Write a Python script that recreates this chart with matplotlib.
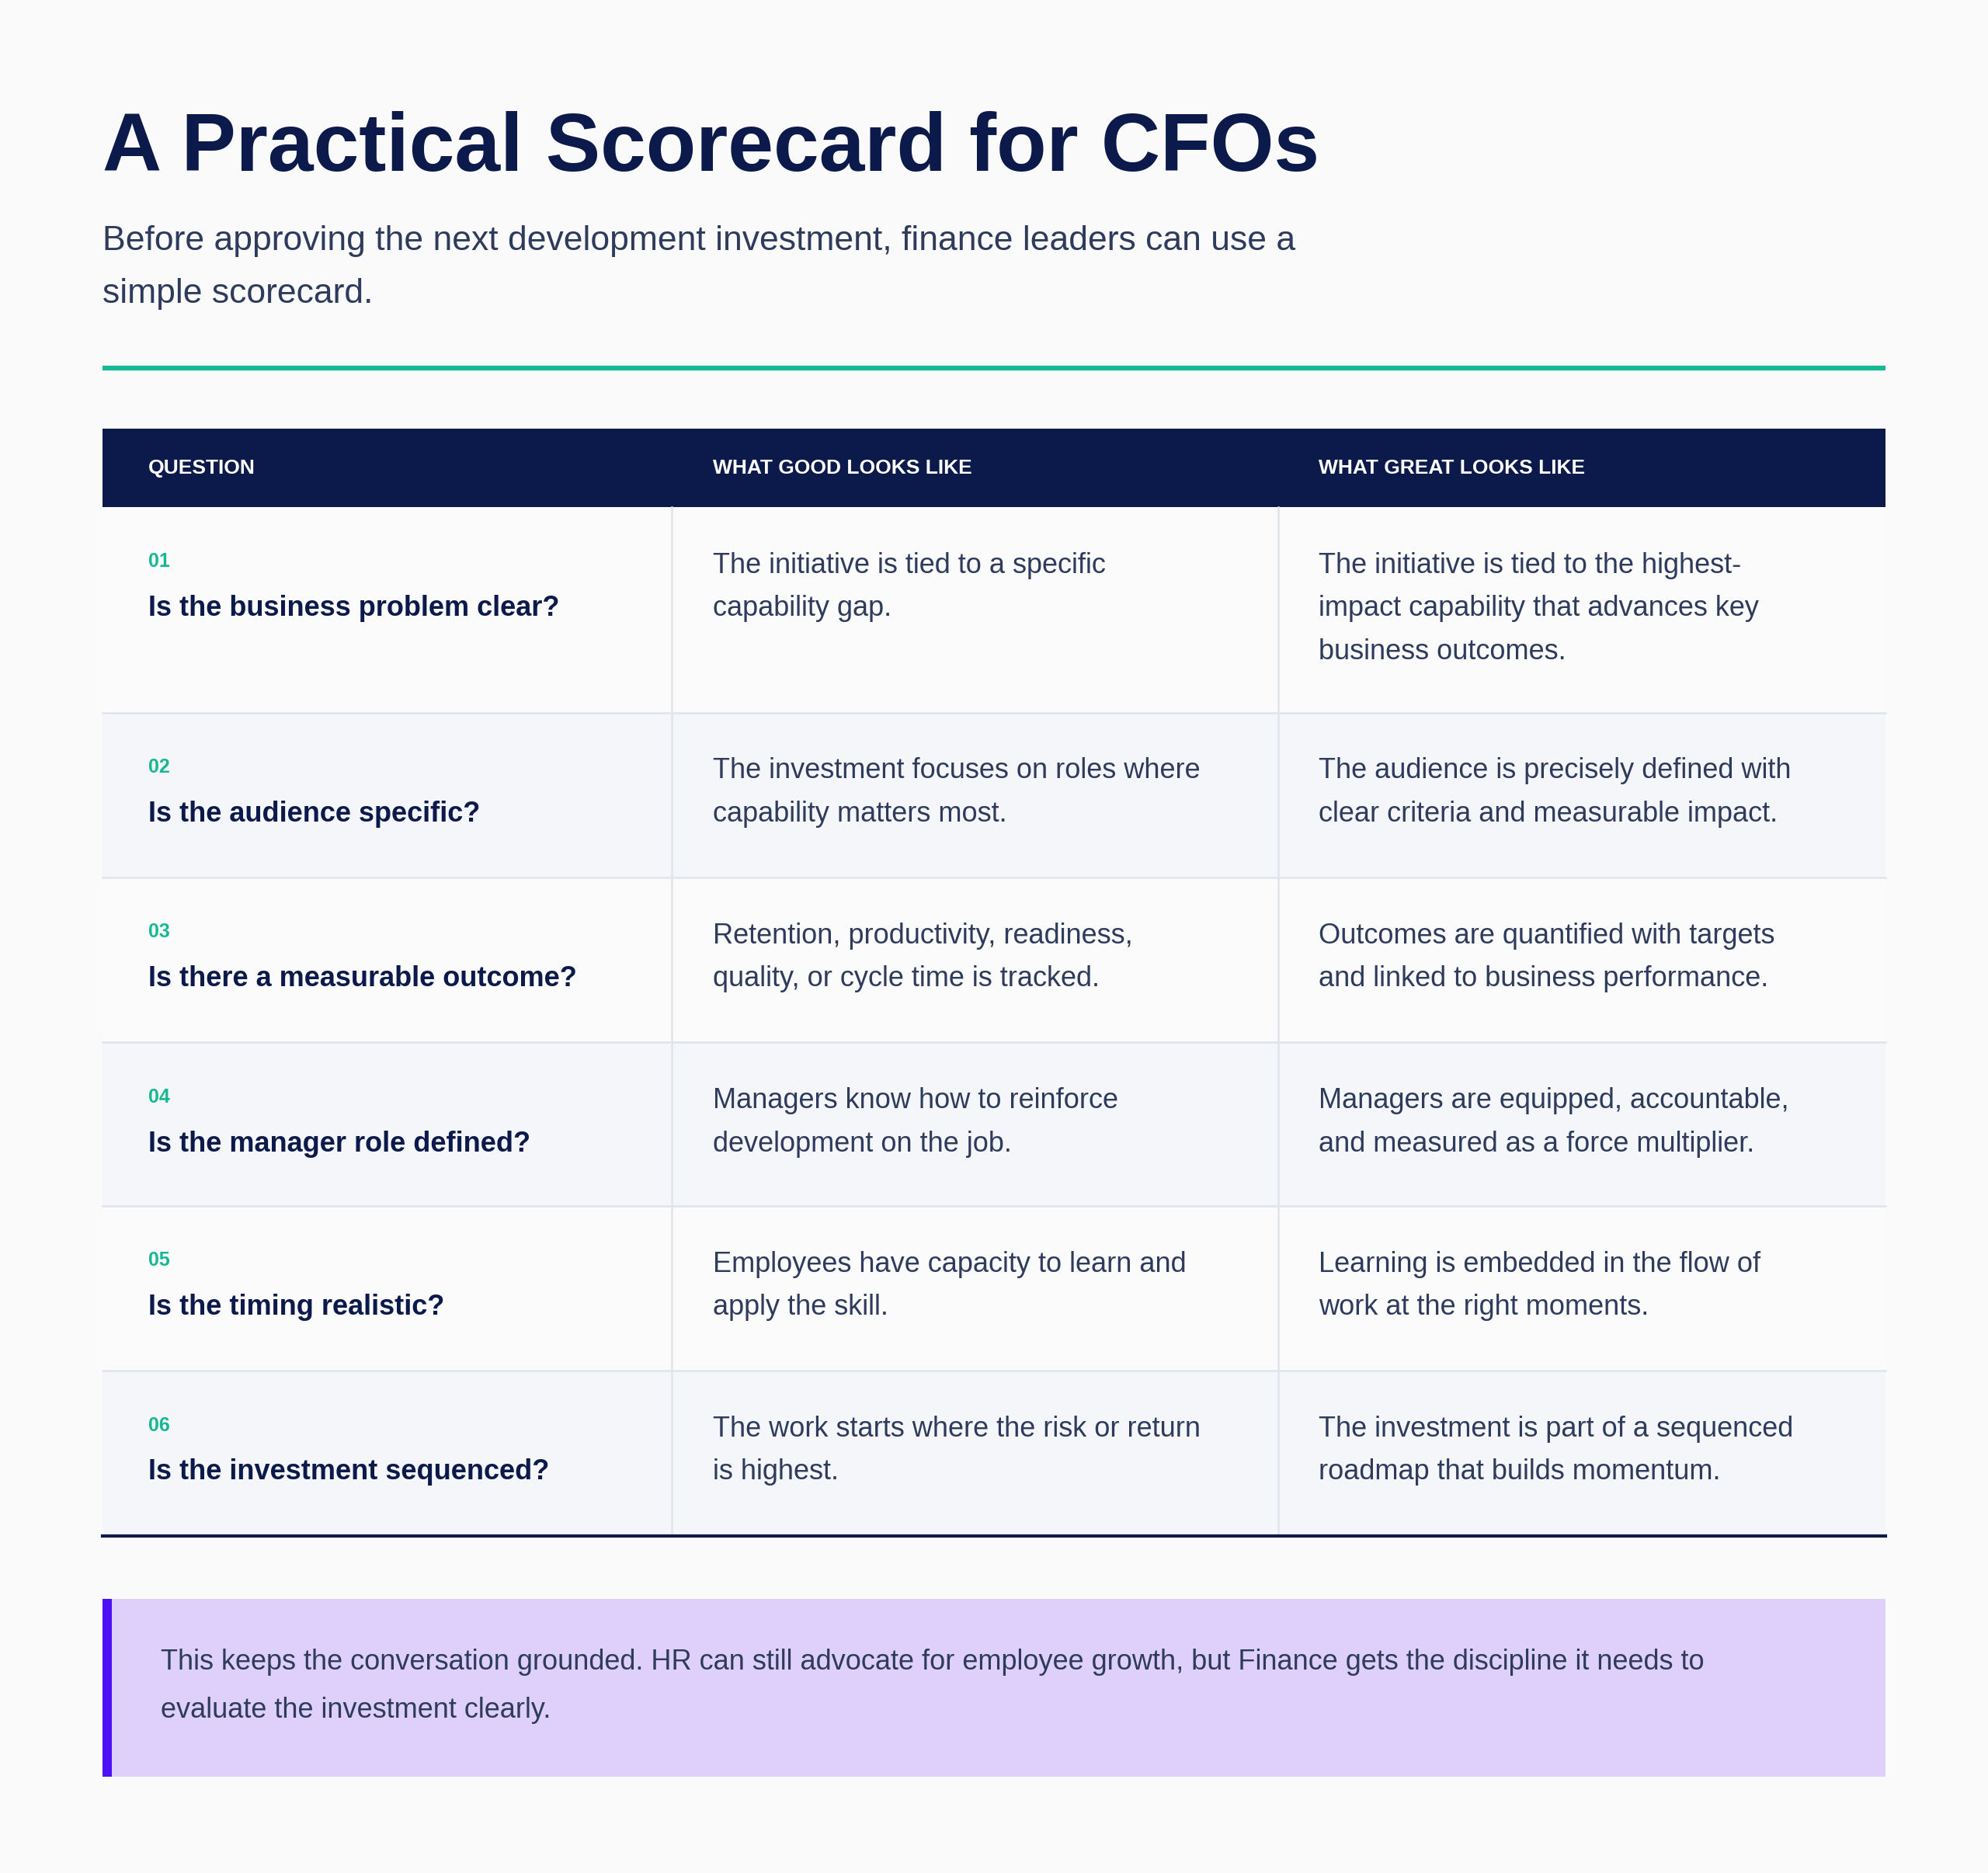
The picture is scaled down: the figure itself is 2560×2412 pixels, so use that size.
import matplotlib.pyplot as plt
from matplotlib.patches import Rectangle

plt.rcParams['font.family'] = ['Liberation Sans', 'DejaVu Sans']

title = "A Practical Scorecard for CFOs"
subtitle = ["Before approving the next development investment, finance leaders can use a",
            "simple scorecard."]
headers = ["QUESTION", "WHAT GOOD LOOKS LIKE", "WHAT GREAT LOOKS LIKE"]
numbers = ["01", "02", "03", "04", "05", "06"]
questions = ["Is the business problem clear?", "Is the audience specific?",
             "Is there a measurable outcome?", "Is the manager role defined?",
             "Is the timing realistic?", "Is the investment sequenced?"]
good = [["The initiative is tied to a specific", "capability gap."],
        ["The investment focuses on roles where", "capability matters most."],
        ["Retention, productivity, readiness,", "quality, or cycle time is tracked."],
        ["Managers know how to reinforce", "development on the job."],
        ["Employees have capacity to learn and", "apply the skill."],
        ["The work starts where the risk or return", "is highest."]]
great = [["The initiative is tied to the highest-", "impact capability that advances key", "business outcomes."],
         ["The audience is precisely defined with", "clear criteria and measurable impact."],
         ["Outcomes are quantified with targets", "and linked to business performance."],
         ["Managers are equipped, accountable,", "and measured as a force multiplier."],
         ["Learning is embedded in the flow of", "work at the right moments."],
         ["The investment is part of a sequenced", "roadmap that builds momentum."]]
row_edges = [400, 562, 692, 822, 951, 1081, 1211]
callout = ["This keeps the conversation grounded. HR can still advocate for employee growth, but Finance gets the discipline it needs to",
           "evaluate the investment clearly."]

NAVY = "#0b1a4b"
TEXT = "#2f3b5c"
TEAL = "#14b892"
W, H = 1568, 1477

fig = plt.figure(figsize=(25.6, 24.12), dpi=100, facecolor="#fafafa")
ax = fig.add_axes([0, 0, 1, 1])
ax.set_xlim(0, W)
ax.set_ylim(H, 0)
ax.set_axis_off()

ax.text(81, 118, title, fontsize=76, fontweight="bold", color=NAVY, va="center")
for i, line in enumerate(subtitle):
    ax.text(81, 190 + 42 * i, line, fontsize=32, color=TEXT, va="center")
ax.plot([81, 1487], [290, 290], color=TEAL, lw=4.5, solid_capstyle="butt")

ax.add_patch(Rectangle((81, 338), 1406, 62, color=NAVY, lw=0))
col_x = [117, 562, 1040]
for x, h in zip(col_x, headers):
    ax.text(x, 369, h, fontsize=19, fontweight="bold", color="white", va="center")

for i in range(len(questions)):
    top, bot = row_edges[i], row_edges[i + 1]
    bg = "#fbfbfc" if i % 2 == 0 else "#f5f6f9"
    ax.add_patch(Rectangle((81, top), 1406, bot - top, color=bg, lw=0))
    if i > 0:
        ax.plot([81, 1487], [top, top], color="#e1e4eb", lw=1.8)
    ax.text(117, top + 43, numbers[i], fontsize=18, fontweight="bold", color=TEAL, va="center")
    ax.text(117, top + 80, questions[i], fontsize=26, fontweight="bold", color=NAVY, va="center")
    for j, line in enumerate(good[i]):
        ax.text(562, top + 46 + 34 * j, line, fontsize=26, color=TEXT, va="center")
    for j, line in enumerate(great[i]):
        ax.text(1040, top + 46 + 34 * j, line, fontsize=26, color=TEXT, va="center")

for x in [530, 1008]:
    ax.plot([x, x], [400, 1211], color="#e1e4eb", lw=1.8)
ax.plot([81, 1487], [1211, 1211], color=NAVY, lw=3)

ax.add_patch(Rectangle((81, 1261), 1406, 140, color="#ded0fb", lw=0))
ax.add_patch(Rectangle((81, 1261), 7, 140, color="#4c12f5", lw=0))
for i, line in enumerate(callout):
    ax.text(127, 1311 + 38 * i, line, fontsize=26, color=TEXT, va="center")

fig.savefig("out.png", dpi=100, facecolor=fig.get_facecolor())
